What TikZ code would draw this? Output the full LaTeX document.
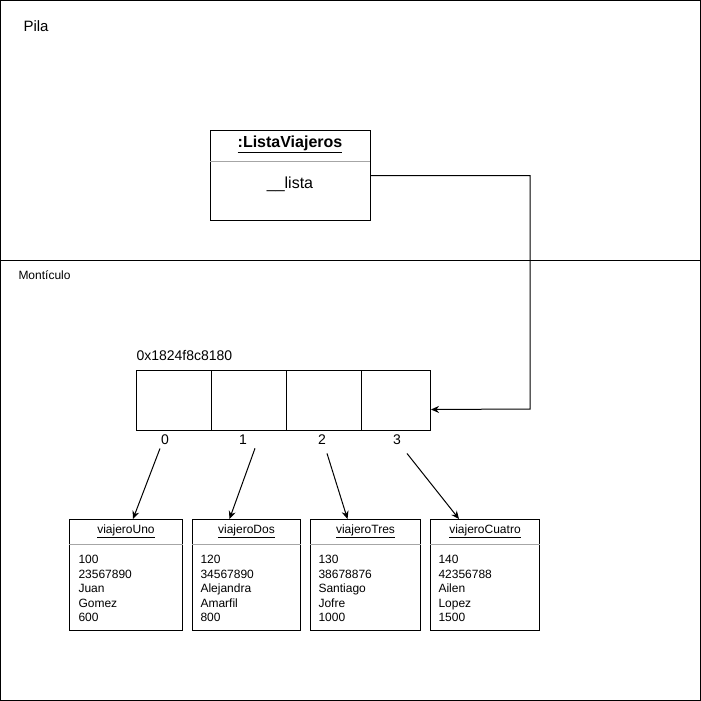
\documentclass[tikz,border=0pt]{standalone}
\usepackage{fontspec}
\setmainfont{Liberation Sans}
\usetikzlibrary{arrows.meta}
\begin{document}
\begin{tikzpicture}[x=1pt,y=-1pt,line width=1pt]
  \tikzstyle{every node}=[inner sep=0pt,font=\fontsize{12}{14.5}\selectfont]
  \tikzstyle{obj}=[draw,anchor=north west,minimum height=111pt]
  \tikzstyle{cell}=[draw,anchor=north west,minimum width=75pt,minimum height=60pt]
  \tikzstyle{idx}=[font=\fontsize{14}{16}\selectfont]
  \tikzstyle{datos}=[anchor=north west,align=left]
  \tikzstyle{sep}=[draw=gray!70]
  \tikzstyle{ptr}=[-{Stealth[length=8pt,width=7pt]}]
  \useasboundingbox (0,0) rectangle (701,701);
  % zonas de memoria
  \draw (0.5,0.5) rectangle (700.5,260.5);
  \draw (0.5,260.5) rectangle (700.5,700.5);
  \node[anchor=west,font=\fontsize{15}{18}\selectfont] (pila) at (23,26) {Pila};
  \node[anchor=west] (monticulo) at (18,275) {Montículo};
  % objeto en la pila
  \node[obj,minimum width=160pt,minimum height=90pt] (lista) at (210,130) {};
  \draw[sep] (210,161) -- (370,161);
  \node[font=\fontsize{16}{19}\bfseries] (listaTit) at (290,144) {\underline{:ListaViajeros}};
  \node[font=\fontsize{16}{19}\selectfont] (campo) at (290,184) {\_\_lista};
  % arreglo
  \node[anchor=west,font=\fontsize{14}{16}\selectfont] (dir) at (136,355) {0x1824f8c8180};
  \foreach \i in {0,...,2}
    \node[cell] (c\i) at (136+75*\i,370) {};
  \node[cell,minimum width=69pt] (c3) at (361,370) {};
  \node[idx] (i0) at (165,440) {0};
  \node[idx] (i1) at (243,440) {1};
  \node[idx] (i2) at (322,440) {2};
  \node[idx] (i3) at (397,440) {3};
  \draw[ptr] (lista.east) -| (530,409) -- ([yshift=-9pt]c3.east);
  % viajeros
  \node[obj,minimum width=113pt] (uno) at (69,519) {};
  \node[obj,minimum width=108pt] (dos) at (192,519) {};
  \node[obj,minimum width=110pt] (tres) at (310,519) {};
  \node[obj,minimum width=109pt] (cuatro) at (430,519) {};
  \foreach \v/\t in {uno/viajeroUno,dos/viajeroDos,tres/viajeroTres,cuatro/viajeroCuatro}{
    \node (t\v) at ([yshift=-12pt]\v.north) {\underline{\t}};
    \draw[sep] ([yshift=-25pt]\v.north west) -- ([yshift=-25pt]\v.north east);
  }
  \node[datos] (d1) at (78,555) {100\\23567890\\Juan\\Gomez\\600};
  \node[datos] (d2) at (200,555) {120\\34567890\\Alejandra\\Amarfil\\800};
  \node[datos] (d3) at (318,555) {130\\38678876\\Santiago\\Jofre\\1000};
  \node[datos] (d4) at (438,555) {140\\42356788\\Ailen\\Lopez\\1500};
  \draw[ptr] ([xshift=-5pt,yshift=-3pt]i0.south) -- ([xshift=7pt]uno.north);
  \draw[ptr] ([xshift=12pt,yshift=-3pt]i1.south) -- ([xshift=-17pt]dos.north);
  \draw[ptr] ([xshift=5pt,yshift=-8pt]i2.south) -- ([xshift=-18pt]tres.north);
  \draw[ptr] ([xshift=10pt,yshift=-8pt]i3.south) -- ([xshift=-26pt]cuatro.north);
\end{tikzpicture}
\end{document}
